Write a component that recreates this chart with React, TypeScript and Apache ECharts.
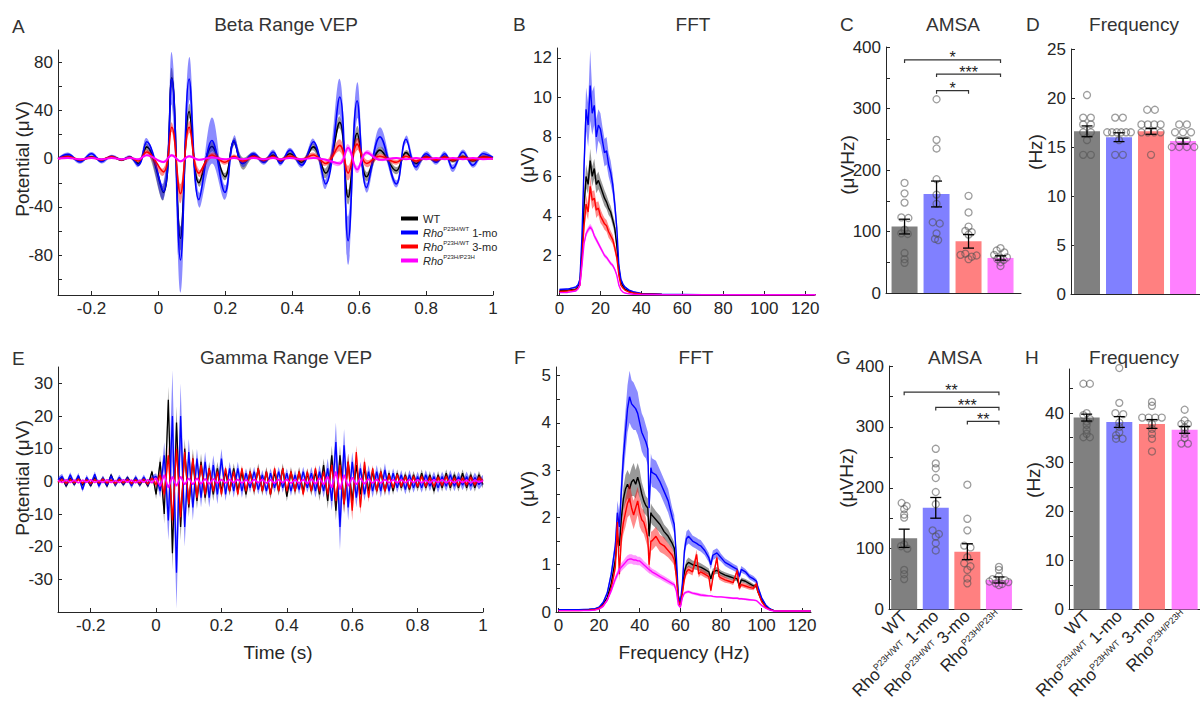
import React, { useEffect, useRef } from 'react';
import * as echarts from 'echarts';

const FONT = '"Liberation Sans", Arial, Helvetica, sans-serif';
const AX = '#262626';

// ---------- groups / colours ----------
const GROUPS = ['WT', 'Rho P23H/WT 1-mo', 'Rho P23H/WT 3-mo', 'Rho P23H/P23H'];
const LEGEND_RICH = ['{n|WT}', '{i|Rho}{s|P23H/WT}{n| 1-mo}', '{i|Rho}{s|P23H/WT}{n| 3-mo}', '{i|Rho}{s|P23H/P23H}'];
const CAT_RICH = ['{n|WT}', '{n|Rho}{s|P23H/WT}{n| 1-mo}', '{n|Rho}{s|P23H/WT}{n| 3-mo}', '{n|Rho}{s|P23H/P23H}'];
const LINE_COLORS = ['#000000', '#0000ff', '#ff0000', '#ff00ff'];
const BAND_COLORS = ['rgba(0,0,0,0.4)', 'rgba(0,0,255,0.45)', 'rgba(255,0,0,0.45)', 'rgba(255,0,255,0.4)'];
const BAR_COLORS = ['#808080', '#8080ff', '#ff8080', '#ff80ff'];

// ---------- tick arrays ----------
const TIME_TICKS = [-0.2, 0, 0.2, 0.4, 0.6, 0.8, 1];
const FFT_X_TICKS = [0, 20, 40, 60, 80, 100, 120];
const A_Y_TICKS = [-100, -80, -60, -40, -20, 0, 20, 40, 60, 80];
const A_Y_LABELS = [-80, -40, 0, 40, 80];
const B_Y_TICKS = [2, 4, 6, 8, 10, 12];
const E_Y_TICKS = [-30, -20, -10, 0, 10, 20, 30];
const F_Y_TICKS = [0, 0.5, 1, 1.5, 2, 2.5, 3, 3.5, 4, 4.5, 5];
const F_Y_LABELS = [0, 1, 2, 3, 4, 5];
const AMSA_Y_TICKS = [0, 50, 100, 150, 200, 250, 300, 350, 400];
const AMSA_Y_LABELS = [0, 100, 200, 300, 400];
const D_Y_TICKS = [0, 5, 10, 15, 20, 25];
const H_Y_TICKS = [0, 5, 10, 15, 20, 25, 30, 35, 40, 45];
const H_Y_LABELS = [0, 10, 20, 30, 40];
const CAT_TICKS = [1, 2, 3, 4];

// ---------- A: beta range VEP (extrema times, µV) ----------
const TIME_A = [-0.3, -0.27, -0.234, -0.2, -0.17, -0.14, -0.11, -0.085, -0.06, -0.035,
  0.015, 0.04, 0.066, 0.092, 0.121, 0.16, 0.199, 0.226, 0.252, 0.284,
  0.315, 0.343, 0.365, 0.393, 0.428, 0.463, 0.5, 0.542, 0.567, 0.594,
  0.622, 0.662, 0.711, 0.74, 0.77, 0.8, 0.83, 0.856, 0.88, 0.91,
  0.94, 0.97, 1.0];
const WT_A = [0, 2, -1.5, 1.5, -1, 1.5, -1, 1, -4, 9.7,
  -28, 67, -66, 39, -20, 10, -15, 14, -4, 3,
  -2, 3, -2, 4, -3, 9.7, -12, 30, -32, 21,
  -15, 7, -10, 5, -4, 2, -2, 2, -2, 2,
  -2, 1.5, 0.5];
const WT_A_SEM = [0.8, 1, 1, 1, 1, 1, 1, 1, 1.5, 3,
  6, 8, 10, 6, 3, 4, 3, 3, 5, 2,
  2, 2, 2, 2, 2, 3, 4, 5, 6, 6,
  4, 3, 3, 2, 2, 1.5, 1.5, 1.5, 1.5, 1.5,
  1.5, 1.5, 1];
const MO1_A = [0, 3.6, -2.8, 4, -2.5, 2, -1, 1.5, -5.5, 14,
  -27, 66, -84, 66, -34, 15, -28, 15, -4, 4,
  -3, 5.5, -4, 7, -5.5, 14, -21, 51, -68, 48,
  -24, 18, -21, 16, -7, 4, -3, 4, -8, 5.5,
  -5.5, 4, 1];
const MO1_A_SEM = [1, 1.5, 1.5, 1.5, 1.5, 1.2, 1.2, 1.2, 1.5, 3,
  7, 22, 27, 18, 6, 19, 6, 4, 3, 2,
  2, 2, 2, 2, 2, 2.5, 4, 15, 20, 15,
  4, 8, 3, 3, 3, 2, 2, 2, 3, 2,
  2, 2, 1];
const MO3_A = [0, 1.5, -1, 1, -1, 1.5, -1, 1, -2, 5.5,
  -11, 26, -29, 26, -12, 3, -3, 2, -2, 1.5,
  -1, 1.5, -1, 2, -1, 3, -4, 11, -12, 12,
  -4, 2, -3, 2, -2, 1, -1, 1, -1, 1,
  -1, 1, 0];
const MO3_A_SEM = [0.8, 1, 1, 1, 1, 1, 1, 1, 1, 2,
  3, 4, 8, 5, 3, 2, 2, 1.5, 1.5, 1.5,
  1.5, 1.5, 1.5, 1.5, 1.5, 2, 2, 5, 6, 5,
  3, 2, 2, 1.5, 1.5, 1.5, 1.5, 1.5, 1.5, 1.5,
  1.5, 1.5, 1];
const HOM_A = [0, 0.5, -0.5, 0.5, -0.5, 0.5, -0.5, 0.5, -0.5, 2.8,
  -2.8, 2.8, -2.2, 2, -1, 1, -0.5, 0.5, -0.5, 0.5,
  -0.5, 0.5, -0.5, 0.5, -0.5, 0.5, -1, -4, 9, -9,
  5, -1, 0.5, -0.5, 0.5, -0.5, 0.5, -0.5, 0.5, -0.5,
  0.5, -0.5, 0];
const HOM_A_SEM = [0.5, 0.5, 0.5, 0.5, 0.5, 0.5, 0.5, 0.5, 0.5, 0.5,
  1, 1, 1, 1, 0.8, 0.6, 0.5, 0.5, 0.5, 0.5,
  0.5, 0.5, 0.5, 0.5, 0.5, 0.5, 1, 2, 3, 3,
  2, 1, 0.6, 0.5, 0.5, 0.5, 0.5, 0.5, 0.5, 0.5,
  0.5, 0.5, 0.5];

// ---------- B: beta FFT (Hz, µV) ----------
const FREQ_B = [0, 4, 8, 9, 10, 11, 12, 13, 14, 15, 16, 17, 18, 19, 20, 21, 22, 23, 24, 25, 26, 27, 28, 29, 30, 31, 32, 34, 36, 40, 50, 70, 100, 125];
const WT_B = [0.22, 0.24, 0.3, 0.4, 0.6, 2.2, 4.5, 6.0, 5.6, 6.8, 6.0, 6.4, 5.6, 5.8, 5.5, 5.2, 4.9, 4.7, 4.4, 4.2, 3.8, 3.4, 2.5, 1.3, 0.65, 0.45, 0.3, 0.2, 0.12, 0.06, 0.03, 0.02, 0.01, 0.01];
const WT_B_SEM = [0.02, 0.02, 0.03, 0.04, 0.06, 0.25, 0.45, 0.6, 0.5, 0.6, 0.5, 0.5, 0.45, 0.45, 0.4, 0.4, 0.4, 0.35, 0.35, 0.3, 0.3, 0.3, 0.25, 0.15, 0.06, 0.04, 0.03, 0.02, 0.01, 0.01, 0.01, 0.01, 0.01, 0.01];
const MO1_B = [0.28, 0.3, 0.4, 0.5, 0.8, 3.0, 6.5, 9.4, 8.6, 10.6, 9.2, 9.6, 8.0, 8.6, 8.4, 7.8, 7.2, 7.3, 6.6, 6.2, 5.6, 4.6, 3.4, 1.5, 0.8, 0.55, 0.4, 0.25, 0.17, 0.08, 0.04, 0.02, 0.01, 0.01];
const MO1_B_SEM = [0.03, 0.03, 0.05, 0.06, 0.1, 0.4, 0.8, 1.1, 1.1, 1.8, 1.1, 1.0, 0.9, 0.8, 0.8, 0.7, 0.7, 0.7, 0.6, 0.6, 0.5, 0.5, 0.4, 0.2, 0.1, 0.06, 0.04, 0.03, 0.02, 0.01, 0.01, 0.01, 0.01, 0.01];
const MO3_B = [0.18, 0.2, 0.26, 0.34, 0.5, 1.8, 3.5, 4.6, 4.2, 5.5, 4.8, 4.9, 4.3, 4.4, 4.0, 3.8, 3.6, 3.5, 3.2, 3.0, 2.8, 2.4, 1.9, 1.0, 0.5, 0.35, 0.25, 0.15, 0.1, 0.05, 0.03, 0.02, 0.01, 0.01];
const MO3_B_SEM = [0.02, 0.02, 0.03, 0.03, 0.05, 0.2, 0.35, 0.45, 0.4, 0.5, 0.45, 0.4, 0.4, 0.35, 0.35, 0.3, 0.3, 0.3, 0.3, 0.25, 0.25, 0.25, 0.2, 0.12, 0.05, 0.03, 0.02, 0.02, 0.01, 0.01, 0.01, 0.01, 0.01, 0.01];
const HOM_B = [0.12, 0.13, 0.2, 0.3, 0.5, 1.5, 2.6, 3.1, 3.3, 3.45, 3.3, 3.0, 2.8, 2.6, 2.4, 2.2, 2.0, 1.9, 1.75, 1.6, 1.5, 1.3, 1.0, 0.5, 0.25, 0.15, 0.1, 0.06, 0.04, 0.02, 0.01, 0.01, 0.01, 0.01];
const HOM_B_SEM = [0.01, 0.01, 0.02, 0.02, 0.03, 0.08, 0.12, 0.15, 0.15, 0.15, 0.15, 0.14, 0.13, 0.12, 0.12, 0.11, 0.1, 0.1, 0.1, 0.09, 0.09, 0.08, 0.07, 0.04, 0.02, 0.01, 0.01, 0.01, 0.01, 0.01, 0.01, 0.01, 0.01, 0.01];

// ---------- C / D / G / H: bar panels ----------
const C_MEANS = [108, 161, 84, 57];
const C_SEMS = [12, 21, 11, 3.5];
const C_WT_PTS = [[0, 179], [0, 162], [0, 147], [-0.1, 123], [0.12, 122], [0, 103], [-0.1, 97], [0.1, 96], [0, 65], [0, 55], [0, 49]];
const C_1MO_PTS = [[0, 315], [0, 249], [0, 235], [0, 185], [0, 160], [0, 145], [-0.12, 115], [0.1, 113], [0, 97], [-0.05, 88], [0.05, 86]];
const C_3MO_PTS = [[0, 158], [0, 131], [0, 108], [-0.1, 101], [0.1, 99], [0, 95], [-0.1, 64], [-0.25, 62], [0.25, 61], [0.1, 59], [0, 55]];
const C_HOM_PTS = [[0, 73], [-0.12, 69], [0.12, 66], [-0.2, 62], [0.2, 58], [0, 57], [-0.1, 55], [0.1, 54], [0, 50], [0, 44]];
const C_BRACKETS = [[1, 4, 379], [2, 4, 356], [2, 3, 329]];
const C_STARS = ['*', '***', '*'];

const D_MEANS = [16.6, 16.0, 16.6, 15.6];
const D_SEMS = [0.55, 0.45, 0.3, 0.3];
const D_WT_PTS = [[0, 20.3], [-0.12, 18.0], [0.12, 18.0], [-0.12, 17.3], [0.12, 17.3], [-0.12, 16.5], [0.12, 16.5], [0, 15.7], [-0.12, 14.2], [0.12, 14.2]];
const D_1MO_PTS = [[-0.12, 18.0], [0.12, 18.0], [-0.37, 16.5], [-0.22, 16.5], [-0.07, 16.5], [0.07, 16.5], [0.22, 16.5], [0.37, 16.5], [0, 15.7], [-0.12, 14.2], [0.12, 14.2]];
const D_3MO_PTS = [[-0.12, 18.8], [0.12, 18.8], [-0.3, 17.3], [-0.1, 17.3], [0.1, 17.3], [0.3, 17.3], [-0.3, 16.5], [-0.1, 16.5], [0.1, 16.5], [0.3, 16.5], [0, 14.2]];
const D_HOM_PTS = [[-0.12, 17.3], [0.12, 17.3], [-0.25, 16.5], [0, 16.5], [0.25, 16.5], [-0.12, 15.7], [0.12, 15.7], [-0.35, 15.0], [-0.12, 15.0], [0.12, 15.0], [0.35, 15.0]];

const G_MEANS = [117, 167, 95, 48.5];
const G_SEMS = [15, 17, 13, 5];
const G_WT_PTS = [[-0.08, 175], [0.08, 170], [0, 165], [0, 156], [0, 151], [0, 107], [-0.1, 104], [0.1, 100], [0, 65], [0, 58], [0, 50]];
const G_1MO_PTS = [[0, 264], [0, 240], [0, 232], [0, 216], [0, 193], [0, 173], [-0.1, 130], [0.1, 124], [0, 120], [0, 109], [0, 97]];
const G_3MO_PTS = [[0, 205], [0, 149], [0, 130], [-0.1, 105], [0.1, 102], [0, 86], [-0.1, 76], [0.1, 71], [0, 65], [0, 51], [0, 43]];
const G_HOM_PTS = [[0, 70], [0, 65], [0, 55], [-0.2, 50], [0.2, 48], [-0.3, 46], [0.3, 45], [-0.1, 43], [0.1, 42], [0, 40]];
const G_BRACKETS = [[1, 4, 357], [2, 4, 332], [3, 4, 309]];
const G_STARS = ['**', '***', '**'];

const H_MEANS = [39.1, 38.2, 37.8, 36.6];
const H_SEMS = [0.7, 1.1, 0.9, 0.7];
const H_WT_PTS = [[-0.1, 46], [0.1, 46], [0, 40], [-0.1, 39.6], [0.1, 38.8], [0, 38.3], [0, 37.6], [0, 36.6], [0, 35.8], [-0.1, 35.1], [0.1, 35.1]];
const H_1MO_PTS = [[0, 49.2], [0, 42.1], [-0.12, 40], [0.12, 39.8], [0, 38.1], [0, 37.2], [0, 36.1], [-0.1, 35.5], [-0.1, 34.8], [0.1, 34.8]];
const H_3MO_PTS = [[0, 42.3], [0, 41.5], [-0.3, 39.1], [-0.1, 39.1], [0.1, 39.1], [0.3, 39.1], [0, 37.8], [0, 36.8], [0, 35.8], [0, 34.8], [0, 32.2]];
const H_HOM_PTS = [[0, 40.7], [0, 38.5], [-0.1, 37.8], [0.1, 37.8], [0, 37.1], [0, 36.6], [0, 35.8], [0, 34.9], [-0.1, 33.8], [0.1, 33.8]];

// ---------- E: gamma range VEP (sampled every 12.5 ms from -0.3 s) ----------
const E_T0 = -0.3;
const E_DT = 0.0125;
const WT_E = [-0.3, 1.2, -1.5, 1.0, -1.0, 1.5, -1.2, 0.8, -1.4, 1.2, -0.8, 1.0, -1.5, 2.0, -1.2, 0.8, -1.0, 1.2, -0.8, 1.0, -1.2, 0.8, -1.5, 3,
  -4, 6, -10, 25, -22, 18, -14, 10, -8, 7, -6, 6, -5, 4, -4, 4, -3,
  3, -3, 4, -3, 3, -4, 3, -3, 4, -3, 3, -4, 3, -3, 4, -4.7, 3, -3, 3, -3, 2.5, -3, 3,
  -4, 5, -6, 8, -9, 8, -7, 6, -6, 5, -4, 4, -3, 3, -3, 3, -3,
  2.5, -3, 2.5, -2, 2, -2.5, 2, -2, 2.5, -2, 2, -3, 2, -2, 2.5, -2, 2, -2, 2.5, -2, 2, -2, 2, -1];
const WT_E_SEM = [0.6, 0.6, 0.6, 0.6, 0.6, 0.6, 0.6, 0.6, 0.6, 0.6, 0.6, 0.6, 0.6, 0.6, 0.6, 0.6, 0.6, 0.6, 0.6, 0.6, 0.6, 0.6, 0.6, 0.6,
  1.5, 2, 3, 4, 5, 5, 4, 3, 3, 3, 2.5, 2.5, 2, 2, 2, 2, 2,
  1.5, 1.5, 1.5, 1.5, 1.5, 1.5, 1.5, 1.5, 1.5, 1.5, 1.5, 1.5, 1.5, 1.5, 1.5, 1.5, 1.5, 1.5, 1.5, 1.5, 1.5, 1.5, 1.5,
  2, 2, 2.5, 3, 3, 3, 3, 2.5, 2.5, 2, 2, 2, 2, 1.5, 1.5, 1.5, 1.5,
  1.2, 1.2, 1.2, 1.2, 1.2, 1.2, 1.2, 1.2, 1.2, 1.2, 1.2, 1.2, 1.2, 1.2, 1.2, 1.2, 1.2, 1.2, 1.2, 1.2, 1.2, 1.2, 1.2, 1.2];
const MO1_E = [0.5, 1.5, -1.0, 2.0, -0.8, 1.8, -2.5, 1.2, -1.0, 2.2, -1.5, 1.0, -1.2, 1.6, -1.0, 1.2, -0.8, 1.0, -1.4, 1.2, -0.9, 1.3, -1.0, 1.0,
  1.5, -3, 8, -12, 20, -28, 20, -14, 9, -8, 7, -5, 6, -5, 5, -4, 7,
  -4, 4, -3, 4, -3, 2.5, -2, 3, -2.5, 2, -3, 2.5, -2, 3, -2, 2.5, -3, 2, -2.5, 3, -2, 2.5, -3,
  3, -3, 4, -6, 12, -14, 11, -8, 6, -5, 4, -4, 3, -3, 3, -3, 3.5,
  -3, 2.5, -2, 2, -2.5, 2, -2, 1.5, -2, 2, -1.5, 1.5, -2, 1.5, -1.5, 2, -1.5, 1.5, -1.2, 1.5, -1.5, 1.2, -1, 0.5];
const MO1_E_SEM = [0.8, 0.8, 0.8, 0.8, 0.8, 0.8, 0.8, 0.8, 0.8, 0.8, 0.8, 0.8, 0.8, 0.8, 0.8, 0.8, 0.8, 0.8, 0.8, 0.8, 0.8, 0.8, 0.8, 0.8,
  1, 2, 4, 6, 14, 11, 10, 6, 4, 4, 3, 3, 3, 3, 3, 3, 3,
  2, 2, 2, 2, 2, 1.5, 1.5, 1.5, 1.5, 1.5, 1.5, 1.5, 1.5, 1.5, 1.5, 1.5, 1.5, 1.5, 1.5, 1.5, 1.5, 2, 2,
  2, 2, 3, 3, 6, 7, 5, 4, 3, 3, 2, 2, 2, 2, 2, 2, 2,
  1.5, 1.5, 1.5, 1.5, 1.5, 1.5, 1.5, 1.5, 1.5, 1.5, 1.5, 1.5, 1.5, 1.5, 1.5, 1.5, 1.5, 1.5, 1.5, 1.5, 1.5, 1.5, 1.5, 1.5];
const MO3_E = [-0.2, 0.5, -0.6, 0.5, -0.4, 0.6, -0.5, 0.4, -0.6, 0.5, -0.4, 0.6, -0.5, 0.4, -0.6, 0.5, -0.4, 0.5, -0.6, 0.4, -0.5, 0.6, -0.8, 1,
  -1, 2, -4, 8, -12, 10, -11, 9, -7, 7, -5, 5, -4, 4, -3, 3, -4,
  4, -3, 3, -4, 4, -3, 3, -3, 4, -3, 3, -4, 4, -3, 4, -3, 3, -3, 3, -4, 3, -3, 4,
  -3, 3, -4, 5, -6, 5, -7, 6, -9, 9, -8, 6, -5, 4, -3, 3, -3,
  2, -2, 2, -1.5, 1.5, -2, 1.5, -1.5, 1.5, -1.5, 1.2, -1.5, 1.2, -1.2, 1.5, -1.2, 1, -1.2, 1, -1, 1.2, -1, 1, 0];
const MO3_E_SEM = [0.5, 0.5, 0.5, 0.5, 0.5, 0.5, 0.5, 0.5, 0.5, 0.5, 0.5, 0.5, 0.5, 0.5, 0.5, 0.5, 0.5, 0.5, 0.5, 0.5, 0.5, 0.5, 0.5, 0.5,
  1, 1.5, 2, 3, 3, 3, 2.5, 2, 2, 1.5, 1.5, 1.5, 1.5, 1, 1, 1, 1,
  1, 1, 1, 1, 1, 1, 1, 1, 1, 1, 1, 1, 1, 1, 1, 1, 1, 1, 1, 1, 1, 1, 1,
  1, 1, 1.5, 1.5, 2, 2, 2.5, 2.5, 3, 2, 2, 1.5, 1.5, 1, 1, 1, 1,
  0.8, 0.8, 0.8, 0.8, 0.8, 0.8, 0.8, 0.8, 0.8, 0.8, 0.8, 0.8, 0.8, 0.8, 0.8, 0.8, 0.8, 0.8, 0.8, 0.8, 0.8, 0.8, 0.8, 0.8];
const HOM_E = [0.3, -0.4, 0.5, -0.4, 0.4, -0.5, 0.4, -0.3, 0.5, -0.4, 0.3, -0.4, 0.5, -0.4, 0.3, -0.4, 0.5, -0.3, 0.4, -0.5, 0.4, -0.3, 0.5, -0.5,
  1, -1.5, 2, -2, 1.5, -1.5, 1.5, -1, 1, -1, 1, -0.8, 0.8, -0.8, 0.8, -0.6, 0.6,
  -0.6, 0.6, -0.5, 0.6, -0.6, 0.5, -0.6, 0.6, -0.5, 0.6, -0.6, 0.5, -0.6, 0.6, -0.5, 0.6, -0.6, 0.5, -0.6, 0.6, -0.7, 0.8, -0.8,
  1, -1, 1.5, -2, 3, -2.5, 2, -1.5, 1.2, -1, 1, -0.8, 0.8, -0.6, 0.6, -0.6, 0.6,
  -0.5, 0.5, -0.5, 0.5, -0.5, 0.5, -0.4, 0.5, -0.5, 0.4, -0.5, 0.5, -0.4, 0.5, -0.5, 0.4, -0.5, 0.5, -0.4, 0.4, -0.5, 0.4, -0.3, 0.2];

// ---------- F: gamma FFT (Hz, µV) ----------
const FREQ_F = [0, 5, 10, 15, 18, 20, 22, 24, 26, 28,
  29, 30, 31, 32, 33, 34, 35, 36, 37, 38,
  39, 40, 41, 42, 43, 44, 44.6, 45.5, 46, 48,
  50, 52, 54, 56, 57, 58, 59, 60, 61, 62,
  63, 64, 66, 68, 69, 70, 72, 74, 75, 76,
  78, 79, 80, 82, 84, 86, 88, 89, 90, 92,
  94, 96, 97.5, 98, 100, 102, 104, 106, 110, 124];
const WT_F = [0.04, 0.04, 0.04, 0.05, 0.06, 0.09, 0.17, 0.3, 0.6, 1.1,
  1.6, 1.4, 2.0, 2.4, 2.6, 2.7, 2.6, 2.75, 2.8, 2.7,
  2.85, 2.7, 2.5, 2.35, 2.25, 2.2, 1.6, 2.1, 2.05, 1.95,
  1.85, 1.7, 1.6, 1.45, 1.35, 0.9, 0.3, 0.15, 0.45, 0.85,
  1.0, 1.05, 1.0, 0.98, 0.96, 0.95, 0.9, 0.85, 0.7, 0.85,
  0.88, 0.85, 0.82, 0.78, 0.75, 0.72, 0.7, 0.55, 0.68, 0.65,
  0.6, 0.55, 0.55, 0.45, 0.25, 0.12, 0.06, 0.03, 0.02, 0.02];
const WT_F_SEM = [0.01, 0.01, 0.01, 0.01, 0.01, 0.01, 0.02, 0.03, 0.06, 0.1,
  0.15, 0.15, 0.2, 0.25, 0.3, 0.3, 0.3, 0.3, 0.35, 0.3,
  0.3, 0.3, 0.25, 0.25, 0.2, 0.2, 0.2, 0.2, 0.2, 0.18,
  0.18, 0.15, 0.15, 0.12, 0.12, 0.1, 0.04, 0.04, 0.06, 0.08,
  0.1, 0.1, 0.09, 0.09, 0.09, 0.08, 0.08, 0.07, 0.07, 0.07,
  0.07, 0.07, 0.06, 0.06, 0.06, 0.06, 0.05, 0.05, 0.05, 0.05,
  0.05, 0.04, 0.04, 0.04, 0.03, 0.02, 0.01, 0.01, 0.01, 0.01];
const MO1_F = [0.05, 0.05, 0.05, 0.06, 0.07, 0.1, 0.2, 0.4, 0.8, 1.4,
  2.1, 1.8, 2.6, 3.3, 3.8, 4.3, 4.55, 4.4, 4.35, 4.3,
  4.2, 4.0, 3.8, 3.7, 3.6, 3.45, 2.2, 3.05, 2.95, 2.9,
  2.75, 2.55, 2.35, 2.0, 1.85, 1.2, 0.35, 0.2, 0.6, 1.3,
  1.55, 1.6, 1.5, 1.45, 1.42, 1.4, 1.3, 1.15, 1.0, 1.2,
  1.25, 1.2, 1.15, 1.05, 1.0, 0.95, 0.9, 0.75, 0.9, 0.85,
  0.75, 0.7, 0.65, 0.55, 0.3, 0.15, 0.07, 0.03, 0.02, 0.02];
const MO1_F_SEM = [0.01, 0.01, 0.01, 0.01, 0.01, 0.02, 0.03, 0.05, 0.1, 0.15,
  0.25, 0.3, 0.35, 0.4, 0.45, 0.5, 0.55, 0.5, 0.5, 0.45,
  0.45, 0.4, 0.4, 0.4, 0.35, 0.35, 0.3, 0.3, 0.3, 0.3,
  0.25, 0.25, 0.25, 0.2, 0.2, 0.15, 0.05, 0.05, 0.1, 0.15,
  0.15, 0.15, 0.12, 0.12, 0.12, 0.12, 0.1, 0.1, 0.1, 0.1,
  0.1, 0.1, 0.08, 0.08, 0.08, 0.07, 0.07, 0.07, 0.07, 0.06,
  0.06, 0.06, 0.05, 0.05, 0.03, 0.02, 0.01, 0.01, 0.01, 0.01];
const MO3_F = [0.03, 0.03, 0.03, 0.04, 0.05, 0.08, 0.14, 0.25, 0.5, 0.95,
  1.9, 0.8, 1.6, 1.9, 2.1, 2.3, 2.4, 2.2, 2.05, 2.2,
  2.35, 2.1, 1.95, 1.9, 1.75, 1.55, 1.0, 1.5, 1.5, 1.6,
  1.45, 1.4, 1.3, 1.2, 1.1, 0.75, 0.25, 0.12, 0.4, 0.7,
  0.85, 0.9, 0.85, 1.22, 0.8, 0.85, 0.8, 0.75, 0.45, 0.72,
  1.15, 0.75, 0.72, 0.68, 0.65, 0.62, 0.88, 0.5, 0.58, 0.55,
  0.52, 0.5, 0.6, 0.45, 0.22, 0.1, 0.05, 0.03, 0.02, 0.02];
const MO3_F_SEM = [0.01, 0.01, 0.01, 0.01, 0.01, 0.01, 0.02, 0.03, 0.05, 0.1,
  0.2, 0.15, 0.2, 0.25, 0.3, 0.3, 0.35, 0.3, 0.3, 0.3,
  0.3, 0.3, 0.25, 0.25, 0.25, 0.2, 0.2, 0.2, 0.2, 0.2,
  0.18, 0.18, 0.15, 0.15, 0.12, 0.1, 0.04, 0.04, 0.06, 0.08,
  0.08, 0.08, 0.08, 0.1, 0.07, 0.07, 0.07, 0.06, 0.06, 0.06,
  0.08, 0.06, 0.06, 0.06, 0.05, 0.05, 0.06, 0.05, 0.05, 0.05,
  0.05, 0.04, 0.05, 0.04, 0.03, 0.02, 0.01, 0.01, 0.01, 0.01];
const HOM_F = [0.03, 0.03, 0.03, 0.03, 0.04, 0.06, 0.12, 0.25, 0.45, 0.7,
  0.8, 0.9, 0.95, 1.0, 1.05, 1.1, 1.12, 1.12, 1.1, 1.1,
  1.08, 1.08, 1.04, 1.0, 0.96, 0.92, 0.9, 0.87, 0.85, 0.8,
  0.75, 0.7, 0.65, 0.6, 0.58, 0.45, 0.15, 0.1, 0.3, 0.4,
  0.42, 0.43, 0.4, 0.38, 0.37, 0.36, 0.35, 0.34, 0.34, 0.33,
  0.32, 0.32, 0.32, 0.31, 0.3, 0.29, 0.29, 0.28, 0.28, 0.27,
  0.26, 0.25, 0.24, 0.22, 0.14, 0.08, 0.04, 0.02, 0.02, 0.02];
const HOM_F_SEM = [0.005, 0.005, 0.005, 0.005, 0.005, 0.01, 0.02, 0.03, 0.05, 0.07,
  0.08, 0.08, 0.09, 0.09, 0.1, 0.1, 0.1, 0.1, 0.1, 0.1,
  0.09, 0.09, 0.09, 0.08, 0.08, 0.08, 0.08, 0.07, 0.07, 0.07,
  0.06, 0.06, 0.06, 0.05, 0.05, 0.04, 0.03, 0.03, 0.03, 0.03,
  0.03, 0.03, 0.03, 0.03, 0.03, 0.03, 0.03, 0.02, 0.02, 0.02,
  0.02, 0.02, 0.02, 0.02, 0.02, 0.02, 0.02, 0.02, 0.02, 0.02,
  0.02, 0.02, 0.02, 0.02, 0.01, 0.01, 0.005, 0.005, 0.005, 0.005];

// ---------- helpers ----------
const fmtNum = (v: number) => String(Math.round(v * 100) / 100);

function mkAxis(gi: number, min: number, max: number, ticks: number[], labels: number[] | null, extra: any = {}) {
  const ax: any = {
    type: 'value', gridIndex: gi, min, max,
    axisLine: { show: true, onZero: false, lineStyle: { color: AX, width: 1 } },
    axisTick: { show: true, inside: true, length: 4, customValues: ticks, lineStyle: { color: AX, width: 1 } },
    axisLabel: labels
      ? { show: true, customValues: labels, formatter: fmtNum, color: AX, fontSize: 17, fontFamily: FONT, margin: 5 }
      : { show: false },
    splitLine: { show: false },
  };
  if (extra.axisLabel) ax.axisLabel = { ...ax.axisLabel, ...extra.axisLabel };
  if (extra.axisTick) ax.axisTick = { ...ax.axisTick, ...extra.axisTick };
  return ax;
}

function lineSeries(gi: number, g: number, xs: number[], ys: number[], width: number, smooth: number | boolean, z: number) {
  const color = LINE_COLORS[g];
  return {
    type: 'line', name: GROUPS[g], xAxisIndex: gi, yAxisIndex: gi,
    data: xs.map((x, i) => [x, ys[i]]),
    showSymbol: false, symbol: 'none', smooth, color,
    lineStyle: { color, width }, itemStyle: { color },
    z, silent: true, clip: true,
  };
}

function bandSeries(gi: number, g: number, xs: number[], ys: number[], sem: number[], smooth: number, z: number) {
  return {
    type: 'custom', xAxisIndex: gi, yAxisIndex: gi, z, silent: true, clip: true,
    data: [[xs[0], ys[0]]],
    encode: { x: 0, y: 1 },
    renderItem: (_p: any, api: any) => {
      const up = xs.map((x, i) => api.coord([x, ys[i] + sem[i]]));
      const lo = xs.map((x, i) => api.coord([x, ys[i] - sem[i]])).reverse();
      return {
        type: 'polygon',
        shape: { points: up.concat(lo), smooth },
        style: { fill: BAND_COLORS[g], stroke: 'none' },
      };
    },
  };
}

function barPanel(gi: number, means: number[], sems: number[], pts: number[][][], brackets: number[][] | null, stars: string[] | null) {
  const out: any[] = [];
  out.push({
    type: 'bar', xAxisIndex: gi, yAxisIndex: gi, barWidth: 26, silent: true, z: 2,
    data: means.map((m, i) => ({ value: [i + 1, m], itemStyle: { color: BAR_COLORS[i] } })),
  });
  const sc: number[][] = [];
  pts.forEach((arr, g) => arr.forEach(([dx, v]) => sc.push([g + 1 + dx, v])));
  out.push({
    type: 'scatter', xAxisIndex: gi, yAxisIndex: gi, symbol: 'circle', symbolSize: 7, silent: true, z: 3, clip: false,
    itemStyle: { color: 'rgba(255,255,255,0)', borderColor: 'rgba(80,80,80,0.7)', borderWidth: 1.3 },
    data: sc,
  });
  out.push({
    type: 'custom', xAxisIndex: gi, yAxisIndex: gi, z: 4, silent: true,
    data: means.map((m, i) => [i + 1, m, sems[i]]),
    encode: { x: 0, y: 1 },
    renderItem: (_p: any, api: any) => {
      const x = api.value(0), m = api.value(1), s = api.value(2);
      const t = api.coord([x, m + s]);
      const b = api.coord([x, m - s]);
      const hw = 5.5;
      const st = { stroke: '#000', lineWidth: 1.3 };
      return {
        type: 'group', children: [
          { type: 'line', shape: { x1: t[0], y1: t[1], x2: b[0], y2: b[1] }, style: st },
          { type: 'line', shape: { x1: t[0] - hw, y1: t[1], x2: t[0] + hw, y2: t[1] }, style: st },
          { type: 'line', shape: { x1: b[0] - hw, y1: b[1], x2: b[0] + hw, y2: b[1] }, style: st },
        ],
      };
    },
  });
  if (brackets && stars) {
    out.push({
      type: 'custom', xAxisIndex: gi, yAxisIndex: gi, z: 5, silent: true,
      data: brackets.map((b) => [b[0], b[2], b[1]]),
      encode: { x: 0, y: 1 },
      renderItem: (p: any, api: any) => {
        const a = api.coord([api.value(0), api.value(1)]);
        const c = api.coord([api.value(2), api.value(1)]);
        const st = { stroke: '#333', lineWidth: 1.2, fill: 'none' };
        return {
          type: 'group', children: [
            { type: 'polyline', shape: { points: [[a[0], a[1] + 3], a, c, [c[0], c[1] + 3]] }, style: st },
            {
              type: 'text', x: (a[0] + c[0]) / 2, y: a[1] - 2,
              style: { text: stars[p.dataIndex], fontSize: 16, fontFamily: FONT, fill: '#222', textAlign: 'center', textVerticalAlign: 'middle' },
            },
          ],
        };
      },
    });
  }
  return out;
}

function txt(text: string, x: number, y: number, size: number, align = 'center', rot = 0, color = '#333') {
  return {
    type: 'text', x, y, rotation: rot, silent: true,
    style: { text, fontSize: size, fontFamily: FONT, fill: color, textAlign: align, textVerticalAlign: 'middle' },
  };
}

function buildOption() {
  const grids = [
    { left: 58, top: 50, width: 435, height: 245 },
    { left: 557, top: 48, width: 257, height: 247 },
    { left: 886, top: 47, width: 135, height: 246 },
    { left: 1071, top: 49, width: 129, height: 245 },
    { left: 58, top: 367, width: 425, height: 245 },
    { left: 556, top: 367, width: 255, height: 245 },
    { left: 889, top: 366, width: 133, height: 247 },
    { left: 1069, top: 369, width: 131, height: 244 },
  ];
  const catLabel = {
    axisLabel: {
      show: true, customValues: CAT_TICKS, rotate: 45, margin: 4,
      formatter: (v: number) => CAT_RICH[Math.round(v) - 1] || '',
      color: AX, fontSize: 17, fontFamily: FONT,
      rich: {
        n: { fontSize: 17, fontFamily: FONT, color: AX },
        s: { fontSize: 9, fontFamily: FONT, color: AX, verticalAlign: 'top' },
      },
    },
    axisTick: { length: 3 },
  };
  const xAxis = [
    mkAxis(0, -0.3, 1, TIME_TICKS, TIME_TICKS),
    mkAxis(1, -1.2, 124.3, FFT_X_TICKS, FFT_X_TICKS),
    mkAxis(2, 0.42, 4.64, CAT_TICKS, null, { axisTick: { length: 3 } }),
    mkAxis(3, 0.5, 4.53, CAT_TICKS, null, { axisTick: { length: 3 } }),
    mkAxis(4, -0.3, 1, TIME_TICKS, TIME_TICKS),
    mkAxis(5, -1.2, 124.3, FFT_X_TICKS, FFT_X_TICKS),
    mkAxis(6, 0.52, 4.73, CAT_TICKS, CAT_TICKS, catLabel),
    mkAxis(7, 0.46, 4.47, CAT_TICKS, CAT_TICKS, catLabel),
  ];
  const yAxis = [
    mkAxis(0, -113, 90, A_Y_TICKS, A_Y_LABELS),
    mkAxis(1, 0, 12.5, B_Y_TICKS, B_Y_TICKS),
    mkAxis(2, 0, 400, AMSA_Y_TICKS, AMSA_Y_LABELS),
    mkAxis(3, 0, 25, D_Y_TICKS, D_Y_TICKS),
    mkAxis(4, -40, 35, E_Y_TICKS, E_Y_TICKS),
    mkAxis(5, 0, 5.18, F_Y_TICKS, F_Y_LABELS),
    mkAxis(6, 0, 400, AMSA_Y_TICKS, AMSA_Y_LABELS),
    mkAxis(7, 0, 49, H_Y_TICKS, H_Y_LABELS),
  ];

  const series: any[] = [];
  const A_VALS = [WT_A, MO1_A, MO3_A, HOM_A];
  const A_SEMS = [WT_A_SEM, MO1_A_SEM, MO3_A_SEM, HOM_A_SEM];
  const B_VALS = [WT_B, MO1_B, MO3_B, HOM_B];
  const B_SEMS = [WT_B_SEM, MO1_B_SEM, MO3_B_SEM, HOM_B_SEM];
  const E_VALS = [WT_E, MO1_E, MO3_E, HOM_E];
  const E_SEMS = [WT_E_SEM, MO1_E_SEM, MO3_E_SEM, null];
  const F_VALS = [WT_F, MO1_F, MO3_F, HOM_F];
  const F_SEMS = [WT_F_SEM, MO1_F_SEM, MO3_F_SEM, HOM_F_SEM];
  const TIME_E = WT_E.map((_v, i) => E_T0 + i * E_DT);

  for (let g = 0; g < 4; g++) {
    const z = 2 + g * 2;
    series.push(bandSeries(0, g, TIME_A, A_VALS[g], A_SEMS[g], 0.4, z));
    series.push(lineSeries(0, g, TIME_A, A_VALS[g], g === 3 ? 2 : 1.6, 0.4, z + 1));
    series.push(bandSeries(1, g, FREQ_B, B_VALS[g], B_SEMS[g], 0, z));
    series.push(lineSeries(1, g, FREQ_B, B_VALS[g], 1.4, false, z + 1));
    const es = E_SEMS[g];
    if (es) series.push(bandSeries(4, g, TIME_E, E_VALS[g], es, 0, z));
    series.push(lineSeries(4, g, TIME_E, E_VALS[g], g === 3 ? 1.6 : 1.3, false, z + 1));
    series.push(bandSeries(5, g, FREQ_F, F_VALS[g], F_SEMS[g], 0, z));
    series.push(lineSeries(5, g, FREQ_F, F_VALS[g], 1.4, false, z + 1));
  }
  series.push(...barPanel(2, C_MEANS, C_SEMS, [C_WT_PTS, C_1MO_PTS, C_3MO_PTS, C_HOM_PTS], C_BRACKETS, C_STARS));
  series.push(...barPanel(3, D_MEANS, D_SEMS, [D_WT_PTS, D_1MO_PTS, D_3MO_PTS, D_HOM_PTS], null, null));
  series.push(...barPanel(6, G_MEANS, G_SEMS, [G_WT_PTS, G_1MO_PTS, G_3MO_PTS, G_HOM_PTS], G_BRACKETS, G_STARS));
  series.push(...barPanel(7, H_MEANS, H_SEMS, [H_WT_PTS, H_1MO_PTS, H_3MO_PTS, H_HOM_PTS], null, null));

  const R90 = Math.PI / 2;
  const graphic = [
    txt('A', 12, 26, 19, 'left'), txt('B', 513, 24, 19, 'left'), txt('C', 840, 24, 19, 'left'), txt('D', 1026, 24, 19, 'left'),
    txt('E', 12, 358, 19, 'left'), txt('F', 514, 357, 19, 'left'), txt('G', 836, 357, 19, 'left'), txt('H', 1025, 357, 19, 'left'),
    txt('Beta Range VEP', 286, 24, 19), txt('FFT', 693, 24, 19), txt('AMSA', 953, 24, 19), txt('Frequency', 1134, 24, 19),
    txt('Gamma Range VEP', 286, 357, 19), txt('FFT', 696, 357, 19), txt('AMSA', 955, 357, 19), txt('Frequency', 1134, 357, 19),
    txt('Potential (μV)', 22, 159, 19, 'center', R90, AX), txt('(μV)', 527, 165, 19, 'center', R90, AX),
    txt('(μVHz)', 847, 165, 19, 'center', R90, AX), txt('(Hz)', 1035, 152, 19, 'center', R90, AX),
    txt('Potential (μV)', 22, 478, 19, 'center', R90, AX), txt('(μV)', 527, 489, 19, 'center', R90, AX),
    txt('(μVHz)', 846, 478, 19, 'center', R90, AX), txt('(Hz)', 1033, 480, 19, 'center', R90, AX),
    txt('Time (s)', 278, 652, 19, 'center', 0, AX), txt('Frequency (Hz)', 684, 652, 19, 'center', 0, AX),
  ];

  return {
    animation: false,
    backgroundColor: '#ffffff',
    textStyle: { fontFamily: FONT },
    grid: grids,
    xAxis, yAxis, series, graphic,
    legend: {
      show: true, selectedMode: false, orient: 'vertical', left: 401, top: 212, padding: 0,
      itemWidth: 17, itemHeight: 4, itemGap: 1,
      data: GROUPS.map((n) => ({ name: n, icon: 'rect' })),
      formatter: (name: string) => LEGEND_RICH[GROUPS.indexOf(name)],
      textStyle: {
        fontSize: 11, fontFamily: FONT, color: AX, lineHeight: 13,
        rich: {
          n: { fontSize: 11, fontFamily: FONT, color: AX },
          i: { fontSize: 11, fontFamily: FONT, color: AX, fontStyle: 'italic' },
          s: { fontSize: 6, fontFamily: FONT, color: AX, verticalAlign: 'top' },
        },
      },
    },
  };
}

export default function App() {
  const ref = useRef<HTMLDivElement>(null);
  useEffect(() => {
    if (!ref.current) return;
    const chart = echarts.init(ref.current, null, { renderer: 'svg' });
    chart.setOption(buildOption() as any);
    return () => chart.dispose();
  }, []);
  return (
    <div
      ref={ref}
      style={{ position: 'absolute', left: 0, top: 0, width: 1200, height: 702, background: '#fff' }}
    />
  );
}
